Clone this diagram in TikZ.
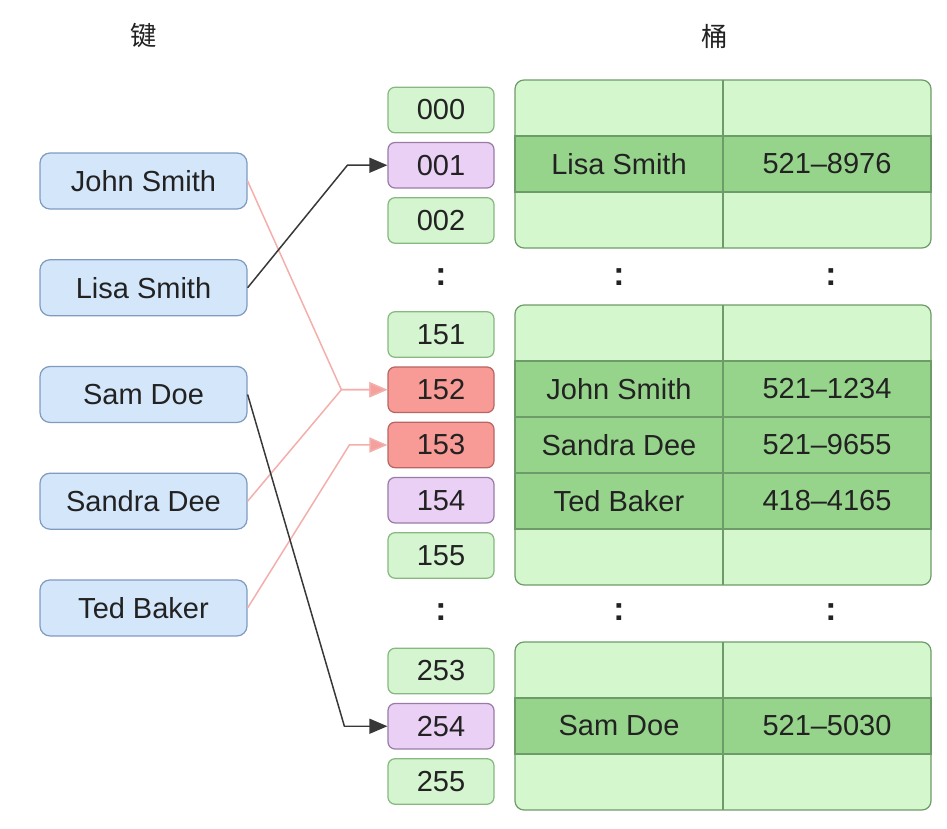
\documentclass[tikz,border=0pt]{standalone}
\usepackage{fontspec}
\setmainfont{Liberation Sans}
\newfontfamily\cjk{Noto Sans CJK SC}
\usetikzlibrary{positioning}
\usetikzlibrary{arrows.meta}

\definecolor{keyfill}{HTML}{D4E6FA}
\definecolor{keyline}{HTML}{7F9CC0}
\definecolor{slotfill}{HTML}{D5F5D0}
\definecolor{slotline}{HTML}{86B880}
\definecolor{usedfill}{HTML}{EBD0F5}
\definecolor{usedline}{HTML}{9A7BA8}
\definecolor{clashfill}{HTML}{F89A96}
\definecolor{clashline}{HTML}{B86664}
\definecolor{rowlight}{HTML}{D5F7CE}
\definecolor{rowdark}{HTML}{97D48B}
\definecolor{gridgreen}{HTML}{6E9C68}
\definecolor{pinkline}{HTML}{F4AEAB}
\definecolor{pinkhead}{HTML}{F4A09D}
\definecolor{textdark}{HTML}{222222}

\tikzset{
  keybox/.style={rectangle, rounded corners=0.2cm, draw=keyline, fill=keyfill, line width=0.7pt,
    minimum width=4.14cm, minimum height=1.12cm, text=textdark, font=\fontsize{16.5}{19}\selectfont},
  slot/.style={rectangle, rounded corners=0.14cm, draw=slotline, fill=slotfill, line width=0.7pt,
    minimum width=2.12cm, minimum height=0.91cm, text=textdark, font=\fontsize{16.5}{19}\selectfont},
  usedslot/.style={slot, draw=usedline, fill=usedfill},
  clashslot/.style={slot, draw=clashline, fill=clashfill},
  hit/.style={rectangle, draw=gridgreen, fill=rowdark, line width=0.7pt, inner sep=0pt,
    minimum width=4.16cm, minimum height=1.12cm, text=textdark, font=\fontsize{16.5}{19}\selectfont},
  grid/.style={draw=gridgreen, line width=0.7pt},
  bucketedge/.style={draw=gridgreen, line width=0.7pt, rounded corners=0.18cm},
  dots/.style={font=\fontsize{19}{22}\selectfont\bfseries, text=textdark},
  title/.style={font=\cjk\fontsize{15}{18}\selectfont, text=textdark},
  probe/.style={draw=textdark!90, line width=0.85pt, -{Triangle[length=0.36cm,width=0.3cm]}},
  collide/.style={draw=pinkline, line width=0.85pt, -{Triangle[length=0.36cm,width=0.3cm,fill=pinkhead]}}
}

\begin{document}
\begin{tikzpicture}
  \useasboundingbox (0,0) rectangle (18.94,-16.56);

  % Titles
  \node[title] (keytitle) at (2.87,-0.72) {键};
  \node[title] (buckettitle) at (14.30,-0.72) {桶};

  % Keys
  \node[keybox] (john) at (2.87,-3.62) {John Smith};
  \node[keybox, below=0.99cm of john] (lisa) {Lisa Smith};
  \node[keybox, below=0.99cm of lisa] (sam) {Sam Doe};
  \node[keybox, below=0.99cm of sam] (sandra) {Sandra Dee};
  \node[keybox, below=0.99cm of sandra] (ted) {Ted Baker};

  % Slots
  \node[slot] (s000) at (8.82,-2.20) {000};
  \node[usedslot, below=0.17cm of s000] (s001) {001};
  \node[slot, below=0.17cm of s001] (s002) {002};
  \node[dots] (gapa) at (8.82,-5.54) {:};
  \node[slot] (s151) at (8.82,-6.69) {151};
  \node[clashslot, below=0.17cm of s151] (s152) {152};
  \node[clashslot, below=0.17cm of s152] (s153) {153};
  \node[usedslot, below=0.17cm of s153] (s154) {154};
  \node[slot, below=0.17cm of s154] (s155) {155};
  \node[dots] (gapb) at (8.82,-12.24) {:};
  \node[slot] (s253) at (8.82,-13.42) {253};
  \node[usedslot, below=0.17cm of s253] (s254) {254};
  \node[slot, below=0.17cm of s254] (s255) {255};

  % Buckets
  \fill[rowlight, rounded corners=0.18cm] (10.30,-1.60) rectangle (18.62,-4.96);
  \node[hit] (lisaname) at (12.38,-3.28) {Lisa Smith};
  \node[hit] (lisanum) at (16.54,-3.28) {521–8976};
  \draw[grid] (14.46,-1.60) -- (14.46,-4.96);
  \draw[bucketedge] (10.30,-1.60) rectangle (18.62,-4.96);

  \node[dots] (gapc) at (12.38,-5.54) {:};
  \node[dots] (gapd) at (16.62,-5.54) {:};

  \fill[rowlight, rounded corners=0.18cm] (10.30,-6.10) rectangle (18.62,-11.70);
  \node[hit] (johnname) at (12.38,-7.78) {John Smith};
  \node[hit] (johnnum) at (16.54,-7.78) {521–1234};
  \node[hit] (sandraname) at (12.38,-8.90) {Sandra Dee};
  \node[hit] (sandranum) at (16.54,-8.90) {521–9655};
  \node[hit] (tedname) at (12.38,-10.02) {Ted Baker};
  \node[hit] (tednum) at (16.54,-10.02) {418–4165};
  \draw[grid] (14.46,-6.10) -- (14.46,-11.70);
  \draw[bucketedge] (10.30,-6.10) rectangle (18.62,-11.70);

  \node[dots] (gape) at (12.38,-12.24) {:};
  \node[dots] (gapf) at (16.62,-12.24) {:};

  \fill[rowlight, rounded corners=0.18cm] (10.30,-12.84) rectangle (18.62,-16.20);
  \node[hit] (samname) at (12.38,-14.52) {Sam Doe};
  \node[hit] (samnum) at (16.54,-14.52) {521–5030};
  \draw[grid] (14.46,-12.84) -- (14.46,-16.20);
  \draw[bucketedge] (10.30,-12.84) rectangle (18.62,-16.20);

  % Hashes
  \draw[collide] (john.east) -- ([xshift=-0.92cm]s152.west) -- (s152.west);
  \draw[collide] (sandra.east) -- ([xshift=-0.92cm]s152.west) -- (s152.west);
  \draw[collide] (ted.east) -- ([xshift=-0.76cm]s153.west) -- (s153.west);
  \draw[probe] (lisa.east) -- ([xshift=-0.80cm]s001.west) -- (s001.west);
  \draw[probe] (sam.east) -- ([xshift=-0.86cm]s254.west) -- (s254.west);

\end{tikzpicture}
\end{document}
